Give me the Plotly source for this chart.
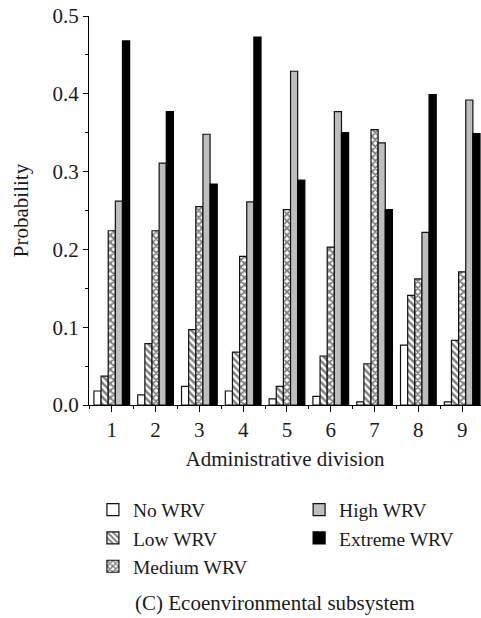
import plotly.graph_objects as go

divisions = [1, 2, 3, 4, 5, 6, 7, 8, 9]
no_wrv = [0.018, 0.013, 0.024, 0.018, 0.008, 0.011, 0.004, 0.077, 0.004]
low_wrv = [0.037, 0.079, 0.097, 0.068, 0.024, 0.063, 0.053, 0.141, 0.083]
medium_wrv = [0.224, 0.224, 0.255, 0.191, 0.251, 0.203, 0.354, 0.162, 0.171]
high_wrv = [0.262, 0.311, 0.348, 0.261, 0.429, 0.377, 0.337, 0.222, 0.392]
extreme_wrv = [0.468, 0.377, 0.284, 0.473, 0.289, 0.350, 0.251, 0.399, 0.349]

FONT = "Liberation Serif, Times New Roman, serif"
OUT = "#111111"
FS = 21
LFS = 19.5

fig = go.Figure()
fig.add_trace(go.Bar(x=divisions, y=no_wrv, name="No WRV", legend="legend", legendgroup="a",
                     marker=dict(color="white", line=dict(color=OUT, width=1.2))))
fig.add_trace(go.Bar(x=divisions, y=low_wrv, name="Low WRV", legend="legend", legendgroup="b",
                     marker=dict(color="white", line=dict(color=OUT, width=1.2),
                                 pattern=dict(shape="\\", fgcolor="black", bgcolor="white", size=5, solidity=0.5))))
fig.add_trace(go.Bar(x=divisions, y=medium_wrv, name="Medium WRV", legend="legend", legendgroup="c",
                     marker=dict(color="white", line=dict(color=OUT, width=1.2),
                                 pattern=dict(shape="x", fgcolor="black", bgcolor="white", size=5, solidity=0.6))))
fig.add_trace(go.Bar(x=divisions, y=high_wrv, name="High WRV", legend="legend2", legendgroup="d",
                     marker=dict(color="#bebebe", line=dict(color=OUT, width=1.2))))
fig.add_trace(go.Bar(x=divisions, y=extreme_wrv, name="Extreme WRV", legend="legend2", legendgroup="e",
                     marker=dict(color="black", line=dict(color="black", width=1.2))))

fig.update_layout(
    width=481, height=618,
    margin=dict(l=89, r=0, t=15.5, b=213),
    paper_bgcolor="white", plot_bgcolor="white",
    font=dict(family=FONT, size=FS, color="#1a1a1a"),
    barmode="group", bargap=0.185, bargroupgap=0,
    showlegend=True,
    legend=dict(x=0.01, xanchor="left", y=-0.2195, yanchor="top", orientation="v",
                font=dict(size=LFS), tracegroupgap=0, bgcolor="rgba(0,0,0,0)"),
    legend2=dict(x=0.536, xanchor="left", y=-0.2195, yanchor="top", orientation="v",
                 font=dict(size=LFS), tracegroupgap=0, bgcolor="rgba(0,0,0,0)"),
)
fig.update_xaxes(
    range=[0.48, 9.43], tickmode="array", tickvals=divisions, ticktext=[str(d) for d in divisions],
    showline=True, linecolor="black", linewidth=1, ticks="outside", ticklen=6, tickcolor="black",
    minor=dict(tickvals=[d + 0.5 for d in range(0, 10)], ticks="outside", ticklen=3, tickcolor="black"),
    showgrid=False, zeroline=False,
    title=dict(text="Administrative division", font=dict(size=FS), standoff=10),
    automargin=False,
)
fig.update_yaxes(
    range=[0, 0.5], tickvals=[0, 0.1, 0.2, 0.3, 0.4, 0.5], tickformat=".1f",
    showline=True, linecolor="black", linewidth=1, ticks="outside", ticklen=5, tickcolor="black",
    minor=dict(dtick=0.05, ticks="outside", ticklen=3, tickcolor="black"),
    showgrid=False, zeroline=False,
    title=dict(text="Probability", font=dict(size=FS), standoff=18),
    automargin=False,
)
fig.add_annotation(text="(C) Ecoenvironmental subsystem", xref="paper", yref="paper",
                   x=0.475, y=-0.509, xanchor="center", yanchor="middle", showarrow=False,
                   font=dict(size=FS, family=FONT, color="#1a1a1a"))

fig.write_html("out.html")
